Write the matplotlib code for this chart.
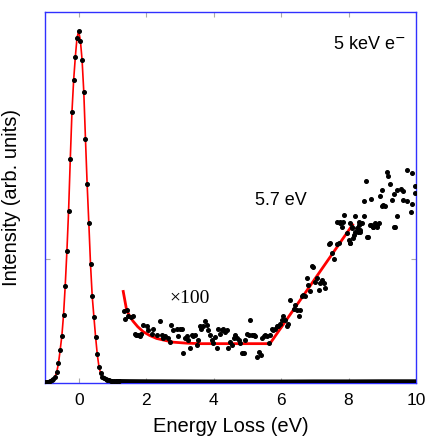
import matplotlib
matplotlib.use("Agg")
import matplotlib.pyplot as plt

plt.rcParams["font.family"] = ["Liberation Sans", "DejaVu Sans"]

# elastic (zero-loss) peak, sampled every 0.05 eV
peak_x = [-1.0, -0.95, -0.9, -0.85, -0.8, -0.75, -0.7, -0.65, -0.6, -0.55,
          -0.5, -0.45, -0.4, -0.35, -0.3, -0.25, -0.2, -0.15, -0.1, -0.05,
          0.0, 0.05, 0.1, 0.15, 0.2, 0.25, 0.3, 0.35, 0.4, 0.45,
          0.5, 0.55, 0.6, 0.65, 0.7, 0.75, 0.8, 0.85, 0.9, 0.95,
          1.0, 1.05, 1.1, 1.15, 1.2]
peak_y = [0.006, 0.008, 0.011, 0.016, 0.022, 0.032, 0.051, 0.091, 0.159, 0.267,
          0.380, 0.550, 0.787, 1.067, 1.393, 1.809, 2.194, 2.450, 2.638, 2.792,
          2.846, 2.768, 2.612, 2.356, 1.975, 1.607, 1.291, 0.960, 0.703, 0.536,
          0.374, 0.232, 0.132, 0.078, 0.052, 0.038, 0.030, 0.025, 0.022, 0.020,
          0.018, 0.017, 0.016, 0.015, 0.015]

# raw tail of the spectrum (x1)
tail_x = [1.2, 1.5, 2, 3, 4, 5, 6, 7, 8, 9, 10]
tail_y = [0.015, 0.014, 0.013, 0.012, 0.011, 0.011, 0.011, 0.012, 0.012, 0.013, 0.013]

# loss region magnified x100
loss_x = [1.34, 1.42, 1.37, 1.47, 1.56, 1.61, 1.66, 1.71, 1.76, 1.81, 1.86,
          1.91, 2.01, 2.06, 2.16, 2.21, 2.31, 2.41, 2.46, 2.50, 2.55, 2.65,
          2.70, 2.75, 2.80, 2.90, 3.00, 3.05, 2.95, 3.10, 3.15, 3.20, 3.25,
          3.30, 3.35, 3.40, 3.45, 3.50, 3.54, 3.59, 3.64, 3.69, 3.74, 3.79,
          3.84, 3.89, 3.94, 3.99, 4.04, 4.09, 4.14, 4.19, 4.24, 4.29, 4.34,
          4.39, 4.44, 4.49, 4.54, 4.59, 4.64, 4.69, 4.74, 4.79, 4.84, 4.89,
          4.94, 4.99, 5.04, 5.09, 5.14, 5.19, 5.24, 5.29, 5.34, 5.39, 5.43,
          5.48, 5.53, 5.58, 5.63, 5.68, 5.72, 5.77, 5.82, 5.87, 5.92, 5.97,
          6.02, 6.07, 6.12, 6.17, 6.22, 6.27, 6.37, 6.42, 6.47, 6.52, 6.56,
          6.61, 6.66, 6.71, 6.76, 6.81, 6.86, 6.91, 6.96, 7.01, 7.06, 7.11,
          7.16, 7.21, 7.26, 7.31, 7.41, 7.46, 7.51, 7.56, 7.66, 7.71, 7.76,
          7.81, 7.95, 8.00, 8.05, 8.10, 8.15, 8.25, 8.30, 8.35, 8.40, 8.55,
          8.64, 8.74, 8.84, 8.89, 9.38,
          8.52, 9.13, 9.72, 9.89, 9.18, 9.23, 8.98, 9.43, 9.57, 9.62, 9.36,
          8.46, 8.68, 8.93, 9.28, 9.62, 9.72, 9.87, 9.03, 8.98, 9.08, 9.84,
          9.43, 9.36, 9.97, 9.97, 8.19, 8.31, 8.47, 7.87, 7.84, 7.74, 7.65,
          8.04, 8.09, 8.20, 8.29, 8.34, 8.68, 8.78, 8.73, 8.83, 8.57, 8.04,
          8.14]
loss_y = [0.58, 0.59, 0.52, 0.54, 0.53, 0.54, 0.40, 0.39, 0.39, 0.38, 0.40,
          0.47, 0.46, 0.43, 0.40, 0.44, 0.39, 0.50, 0.39, 0.36, 0.38, 0.36,
          0.33, 0.47, 0.43, 0.44, 0.44, 0.44, 0.38, 0.24, 0.36, 0.38, 0.35,
          0.28, 0.39, 0.38, 0.39, 0.31, 0.35, 0.46, 0.44, 0.46, 0.50, 0.47,
          0.43, 0.39, 0.35, 0.32, 0.37, 0.28, 0.44, 0.40, 0.43, 0.44, 0.41,
          0.43, 0.28, 0.33, 0.31, 0.36, 0.39, 0.36, 0.35, 0.32, 0.24, 0.24,
          0.35, 0.40, 0.39, 0.51, 0.39, 0.39, 0.38, 0.21, 0.25, 0.23, 0.36,
          0.38, 0.39, 0.38, 0.32, 0.39, 0.44, 0.43, 0.44, 0.46, 0.46, 0.48,
          0.51, 0.54, 0.51, 0.46, 0.48, 0.67, 0.60, 0.63, 0.59, 0.54, 0.59,
          0.70, 0.71, 0.70, 0.85, 0.79, 0.74, 0.95, 0.94, 0.82, 0.85, 0.75,
          0.81, 0.83, 0.81, 0.77, 1.12, 1.13, 1.05, 1.00, 1.12, 1.13, 1.29,
          1.26, 1.21, 1.16, 1.13, 1.26, 1.20, 1.25, 1.28, 1.22, 1.29, 1.18,
          1.28, 1.26, 1.28, 1.29, 1.26,
          1.63, 1.71, 1.72, 1.70, 1.67, 1.61, 1.56, 1.56, 1.57, 1.55, 1.53,
          1.47, 1.49, 1.51, 1.48, 1.48, 1.47, 1.45, 1.44, 1.43, 1.43, 1.38,
          1.35, 1.26, 1.59, 1.54, 1.35, 1.30, 1.35, 1.36, 1.30, 1.30, 1.30,
          1.29, 1.25, 1.22, 1.22, 1.24, 1.28, 1.29, 1.26, 1.26, 1.18, 1.13,
          1.17]

# fitted background + onset at 5.7 eV
fit_x = [1.32, 1.42, 1.52, 1.61, 1.75, 1.91, 2.1, 2.31, 2.55, 2.8, 3.2, 3.6, 4.5, 5.67, 8.12]
fit_y = [0.74, 0.59, 0.535, 0.50, 0.455, 0.415, 0.385, 0.36, 0.345, 0.33, 0.322, 0.318, 0.318, 0.318, 1.28]

fig = plt.figure(figsize=(4.26, 4.36), dpi=100)
ax = fig.add_axes([0.1056, 0.1216, 0.8709, 0.8509])

ax.plot(peak_x, peak_y, color="red", lw=1.2, zorder=2)
ax.plot(peak_x, peak_y, "o", color="black", ms=2.6, zorder=3)
ax.plot(tail_x, tail_y, color="black", lw=3, zorder=3)
ax.plot(fit_x, fit_y, color="red", lw=2, zorder=2)
ax.plot(loss_x, loss_y, "o", color="black", ms=2.6, ls="none", zorder=3)

ax.set_xlim(-1, 10)
ax.set_ylim(0, 3)
ax.set_xticks([0, 2, 4, 6, 8, 10])
ax.set_yticks([1])
ax.set_yticklabels([])
ax.tick_params(direction="in", top=True, right=True, color="#aaaaaa",
               labelsize=12.5, pad=7)
for s in ax.spines.values():
    s.set_color("#3030ff")
    s.set_linewidth(1.0)

ax.set_xlabel("Energy Loss (eV)", fontsize=14.5, labelpad=7)
ax.set_ylabel("Intensity (arb. units)", fontsize=14.5, labelpad=10)

ax.text(0.775, 0.9, "5 keV e$^{-}$", transform=ax.transAxes, fontsize=13)
ax.text(0.565, 0.48, "5.7 eV", transform=ax.transAxes, fontsize=13)
ax.text(0.335, 0.215, "×100", transform=ax.transAxes, fontsize=14,
        family=["Liberation Serif", "DejaVu Serif"])

fig.savefig("out.png", dpi=100)
